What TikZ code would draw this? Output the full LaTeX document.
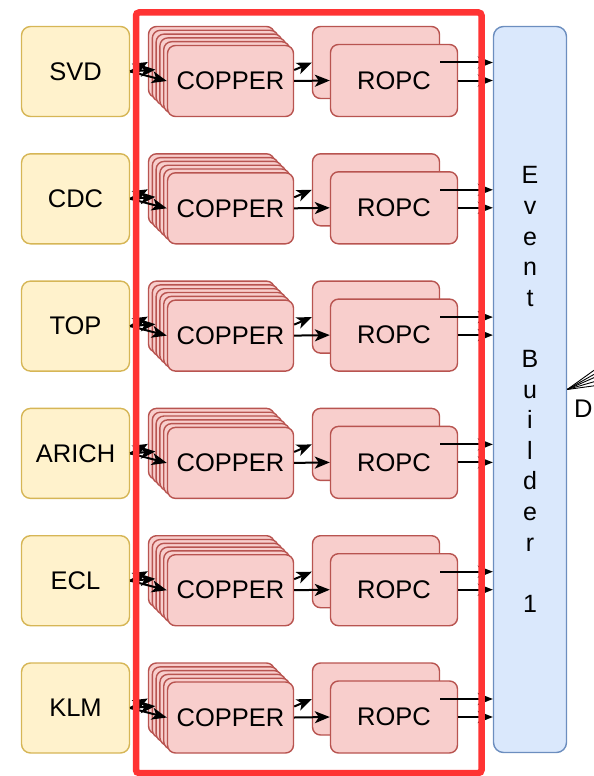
\documentclass[tikz,border=0pt]{standalone}
\usepackage{fontspec}
\setmainfont{Liberation Sans}
\usetikzlibrary{arrows.meta}
\definecolor{detfill}{HTML}{FFF2CC}
\definecolor{detdraw}{HTML}{D6B656}
\definecolor{cfill}{HTML}{F8CECC}
\definecolor{cdraw}{HTML}{B85450}
\definecolor{ebfill}{HTML}{DAE8FC}
\definecolor{ebdraw}{HTML}{6C8EBF}
\definecolor{redbox}{HTML}{FF3333}
\begin{document}
\begin{tikzpicture}[x=1pt,y=-1pt,
  every node/.style={font=\fontsize{25.5}{30}\selectfont, inner sep=0pt},
  detbox/.style={draw=detdraw, fill=detfill, line width=1.4pt, rounded corners=9pt, minimum width=108pt, minimum height=90pt},
  cbox/.style={draw=cdraw, fill=cfill, line width=1.4pt, rounded corners=8pt, minimum width=126pt, minimum height=71pt},
  rbox/.style={draw=cdraw, fill=cfill, line width=1.4pt, rounded corners=8pt, minimum width=127pt, minimum height=72pt},
  ebbox/.style={draw=ebdraw, fill=ebfill, line width=1.4pt, rounded corners=10pt, minimum width=73pt, minimum height=726pt, align=center, font=\fontsize{25}{30.6}\selectfont},
  arr/.style={-{Stealth[length=15pt,width=12pt,inset=4pt]}, line width=2pt},
  fanline/.style={line width=0.9pt}
]
\useasboundingbox (0,0) rectangle (594,776);

\node[ebbox] (eb) at (530,389.5) {E\\v\\e\\n\\t\\[30.6pt]B\\u\\i\\l\\d\\e\\r\\[30.6pt]1};

\foreach \lab [count=\i from 0] in {SVD,CDC,TOP,ARICH,ECL,KLM}{
  \pgfmathsetmacro\dy{\i*127.3}
  \node[detbox] (det\i) at (75.5,{71.5+\dy}) {\lab};
  \foreach \k in {0,...,4}{
    \node[cbox] (cop\i-\k) at ({211.5+3.8*\k},{62+3.8*\k+\dy}) {};
  }
  \node[cbox] (cop\i-5) at (230.5,{81+\dy}) {COPPER};
  \node[rbox] (rb\i) at (376,{62.5+\dy}) {};
  \node[rbox] (rf\i) at (394,{80.5+\dy}) {ROPC};
  \foreach \k in {0,2,5}{
    \draw[arr] (det\i.east) -- (cop\i-\k.west);
  }
  \draw[arr] ([yshift=11pt]cop\i-5.east) -- (rb\i.west);
  \draw[arr] (cop\i-5.east) -- (rf\i.west);
  \draw[arr] (rb\i.east) -- (rb\i.east -| eb.west);
  \draw[arr] (rf\i.east) -- (rf\i.east -| eb.west);
}

\draw[redbox, line width=6.5pt, rounded corners=3pt] (136,12.5) rectangle (481.5,773);

\coordinate (f1) at (600,366);
\coordinate (f2) at (600,371);
\coordinate (f3) at (600,375);
\coordinate (f4) at (600,380);
\coordinate (f5) at (600,385);
\foreach \f in {f1,f2,f3,f4,f5}{
  \draw[fanline] (eb.east) -- (\f);
}
\node[anchor=west] (dq) at (574,409) {D};
\end{tikzpicture}
\end{document}
